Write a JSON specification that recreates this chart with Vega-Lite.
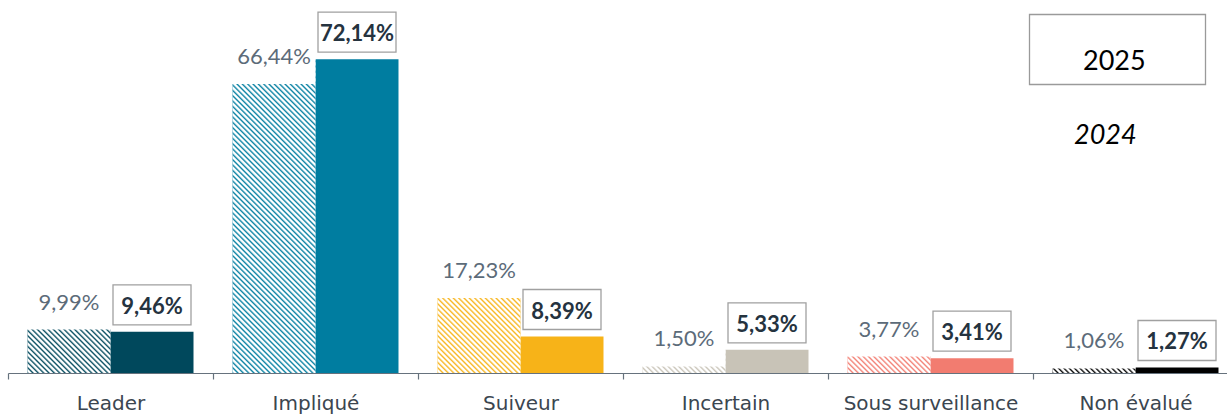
{
"$schema": "https://vega.github.io/schema/vega-lite/v6.json",
"width": 1219,
"height": 373,
"autosize": {"type": "none"},
"padding": {"left": 8, "top": 0, "right": 0, "bottom": 41},
"background": "white",
"config": {"view": {"stroke": null}, "font": "Lato", "locale": {"number": {"decimal": ",", "thousands": " ", "grouping": [3], "currency": ["", " €"]}}},
"data": {"values": [
{"category": "Leader", "year": "2024", "value": 0.0999},
{"category": "Leader", "year": "2025", "value": 0.0946},
{"category": "Impliqué", "year": "2024", "value": 0.6644},
{"category": "Impliqué", "year": "2025", "value": 0.7214},
{"category": "Suiveur", "year": "2024", "value": 0.1723},
{"category": "Suiveur", "year": "2025", "value": 0.0839},
{"category": "Incertain", "year": "2024", "value": 0.0150},
{"category": "Incertain", "year": "2025", "value": 0.0533},
{"category": "Sous surveillance", "year": "2024", "value": 0.0377},
{"category": "Sous surveillance", "year": "2025", "value": 0.0341},
{"category": "Non évalué", "year": "2024", "value": 0.0106},
{"category": "Non évalué", "year": "2025", "value": 0.0127}
]},
"encoding": {
"x": {"field": "category", "type": "nominal", "sort": ["Leader", "Impliqué", "Suiveur", "Incertain", "Sous surveillance", "Non évalué"],
 "scale": {"range": [0, 1230], "paddingInner": 0, "paddingOuter": 0},
 "axis": {"title": null, "tickBand": "extent", "domainColor": "#66727d", "domainWidth": 1.2, "tickColor": "#66727d", "tickWidth": 1.2, "tickSize": 6, "labelFont": "DejaVu Sans", "labelFontSize": 20, "labelColor": "#3b4650", "labelBaseline": "alphabetic", "labelPadding": 30, "labelAngle": 0, "zindex": 1}},
"y": {"field": "value", "type": "quantitative", "scale": {"domain": [0, 0.8575], "nice": false, "zero": true}, "axis": null}
},
"layer": [
{"mark": {"type": "bar"},
 "encoding": {
  "xOffset": {"field": "year", "type": "nominal", "scale": {"domain": ["2024", "2025"], "paddingInner": 0, "paddingOuter": 0.235}},
  "color": {"field": "category", "type": "nominal", "scale": {"domain": ["Leader", "Impliqué", "Suiveur", "Incertain", "Sous surveillance", "Non évalué"], "range": ["#00485c", "#007da0", "#f7b318", "#c8c3b7", "#f27c70", "#000000"]}, "legend": null},
  "opacity": {"field": "year", "type": "ordinal", "scale": {"domain": ["2025", "2024"], "range": [1, 1]},
   "legend": {"title": null, "orient": "none", "legendX": 1070, "legendY": 48, "direction": "vertical", "padding": 0,
    "symbolType": "M-62,-47H114V23H-62Z", "symbolSize": 4, "symbolStrokeColor": "#9a9a9a", "symbolStrokeWidth": 1.3, "symbolFillColor": "transparent",
    "labelFont": "Lato", "labelFontSize": 27, "labelColor": "#000000", "rowPadding": 0, "labelOffset": -22,
    "encode": {"labels": {"update": {"fontStyle": {"signal": "datum.value === '2024' ? 'italic' : 'normal'"}, "dx": {"signal": "datum.value === '2024' ? -9 : 0"}}},
               "symbols": {"update": {"strokeOpacity": {"signal": "datum.value === '2025' ? 1 : 0"}, "fill": {"value": "transparent"}, "stroke": {"value": "#9a9a9a"}}}}}}
 }},
{"transform": [{"filter": "datum.year === '2024'"}],
 "mark": {"type": "bar", "fill": {"gradient": "linear", "x1": 0, "y1": 1, "x2": 0.30316, "y2": -0.36239, "stops": [
{"offset":0,"color":"#fff0"},{"offset":0.004,"color":"#fff"},{"offset":0.007,"color":"#fff"},
{"offset":0.01,"color":"#fff0"},{"offset":0.014,"color":"#fff"},{"offset":0.017,"color":"#fff"},
{"offset":0.02,"color":"#fff0"},{"offset":0.024,"color":"#fff"},{"offset":0.027,"color":"#fff"},
{"offset":0.03,"color":"#fff0"},{"offset":0.034,"color":"#fff"},{"offset":0.037,"color":"#fff"},
{"offset":0.04,"color":"#fff0"},{"offset":0.044,"color":"#fff"},{"offset":0.047,"color":"#fff"},
{"offset":0.05,"color":"#fff0"},{"offset":0.054,"color":"#fff"},{"offset":0.057,"color":"#fff"},
{"offset":0.06,"color":"#fff0"},{"offset":0.064,"color":"#fff"},{"offset":0.067,"color":"#fff"},
{"offset":0.07,"color":"#fff0"},{"offset":0.074,"color":"#fff"},{"offset":0.077,"color":"#fff"},
{"offset":0.08,"color":"#fff0"},{"offset":0.084,"color":"#fff"},{"offset":0.087,"color":"#fff"},
{"offset":0.09,"color":"#fff0"},{"offset":0.094,"color":"#fff"},{"offset":0.097,"color":"#fff"},
{"offset":0.1,"color":"#fff0"},{"offset":0.104,"color":"#fff"},{"offset":0.107,"color":"#fff"},
{"offset":0.11,"color":"#fff0"},{"offset":0.114,"color":"#fff"},{"offset":0.117,"color":"#fff"},
{"offset":0.12,"color":"#fff0"},{"offset":0.124,"color":"#fff"},{"offset":0.127,"color":"#fff"},
{"offset":0.13,"color":"#fff0"},{"offset":0.134,"color":"#fff"},{"offset":0.137,"color":"#fff"},
{"offset":0.14,"color":"#fff0"},{"offset":0.144,"color":"#fff"},{"offset":0.147,"color":"#fff"},
{"offset":0.15,"color":"#fff0"},{"offset":0.154,"color":"#fff"},{"offset":0.157,"color":"#fff"},
{"offset":0.16,"color":"#fff0"},{"offset":0.164,"color":"#fff"},{"offset":0.167,"color":"#fff"},
{"offset":0.17,"color":"#fff0"},{"offset":0.174,"color":"#fff"},{"offset":0.177,"color":"#fff"},
{"offset":0.18,"color":"#fff0"},{"offset":0.184,"color":"#fff"},{"offset":0.187,"color":"#fff"},
{"offset":0.19,"color":"#fff0"},{"offset":0.194,"color":"#fff"},{"offset":0.197,"color":"#fff"},
{"offset":0.2,"color":"#fff0"},{"offset":0.204,"color":"#fff"},{"offset":0.207,"color":"#fff"},
{"offset":0.21,"color":"#fff0"},{"offset":0.214,"color":"#fff"},{"offset":0.217,"color":"#fff"},
{"offset":0.22,"color":"#fff0"},{"offset":0.224,"color":"#fff"},{"offset":0.227,"color":"#fff"},
{"offset":0.23,"color":"#fff0"},{"offset":0.234,"color":"#fff"},{"offset":0.237,"color":"#fff"},
{"offset":0.24,"color":"#fff0"},{"offset":0.244,"color":"#fff"},{"offset":0.247,"color":"#fff"},
{"offset":0.25,"color":"#fff0"},{"offset":0.254,"color":"#fff"},{"offset":0.257,"color":"#fff"},
{"offset":0.26,"color":"#fff0"},{"offset":0.264,"color":"#fff"},{"offset":0.267,"color":"#fff"},
{"offset":0.27,"color":"#fff0"},{"offset":0.274,"color":"#fff"},{"offset":0.277,"color":"#fff"},
{"offset":0.28,"color":"#fff0"},{"offset":0.284,"color":"#fff"},{"offset":0.287,"color":"#fff"},
{"offset":0.29,"color":"#fff0"},{"offset":0.294,"color":"#fff"},{"offset":0.297,"color":"#fff"},
{"offset":0.3,"color":"#fff0"},{"offset":0.304,"color":"#fff"},{"offset":0.307,"color":"#fff"},
{"offset":0.31,"color":"#fff0"},{"offset":0.314,"color":"#fff"},{"offset":0.317,"color":"#fff"},
{"offset":0.32,"color":"#fff0"},{"offset":0.324,"color":"#fff"},{"offset":0.327,"color":"#fff"},
{"offset":0.33,"color":"#fff0"},{"offset":0.334,"color":"#fff"},{"offset":0.337,"color":"#fff"},
{"offset":0.34,"color":"#fff0"},{"offset":0.344,"color":"#fff"},{"offset":0.347,"color":"#fff"},
{"offset":0.35,"color":"#fff0"},{"offset":0.354,"color":"#fff"},{"offset":0.357,"color":"#fff"},
{"offset":0.36,"color":"#fff0"},{"offset":0.364,"color":"#fff"},{"offset":0.367,"color":"#fff"},
{"offset":0.37,"color":"#fff0"},{"offset":0.374,"color":"#fff"},{"offset":0.377,"color":"#fff"},
{"offset":0.38,"color":"#fff0"},{"offset":0.384,"color":"#fff"},{"offset":0.387,"color":"#fff"},
{"offset":0.39,"color":"#fff0"},{"offset":0.394,"color":"#fff"},{"offset":0.397,"color":"#fff"},
{"offset":0.4,"color":"#fff0"},{"offset":0.404,"color":"#fff"},{"offset":0.407,"color":"#fff"},
{"offset":0.41,"color":"#fff0"},{"offset":0.414,"color":"#fff"},{"offset":0.417,"color":"#fff"},
{"offset":0.42,"color":"#fff0"},{"offset":0.424,"color":"#fff"},{"offset":0.427,"color":"#fff"},
{"offset":0.43,"color":"#fff0"},{"offset":0.434,"color":"#fff"},{"offset":0.437,"color":"#fff"},
{"offset":0.44,"color":"#fff0"},{"offset":0.444,"color":"#fff"},{"offset":0.447,"color":"#fff"},
{"offset":0.45,"color":"#fff0"},{"offset":0.454,"color":"#fff"},{"offset":0.457,"color":"#fff"},
{"offset":0.46,"color":"#fff0"},{"offset":0.464,"color":"#fff"},{"offset":0.467,"color":"#fff"},
{"offset":0.47,"color":"#fff0"},{"offset":0.474,"color":"#fff"},{"offset":0.477,"color":"#fff"},
{"offset":0.48,"color":"#fff0"},{"offset":0.484,"color":"#fff"},{"offset":0.487,"color":"#fff"},
{"offset":0.49,"color":"#fff0"},{"offset":0.494,"color":"#fff"},{"offset":0.497,"color":"#fff"},
{"offset":0.5,"color":"#fff0"},{"offset":0.504,"color":"#fff"},{"offset":0.507,"color":"#fff"},
{"offset":0.51,"color":"#fff0"},{"offset":0.514,"color":"#fff"},{"offset":0.517,"color":"#fff"},
{"offset":0.52,"color":"#fff0"},{"offset":0.524,"color":"#fff"},{"offset":0.527,"color":"#fff"},
{"offset":0.53,"color":"#fff0"},{"offset":0.534,"color":"#fff"},{"offset":0.537,"color":"#fff"},
{"offset":0.54,"color":"#fff0"},{"offset":0.544,"color":"#fff"},{"offset":0.547,"color":"#fff"},
{"offset":0.55,"color":"#fff0"},{"offset":0.554,"color":"#fff"},{"offset":0.557,"color":"#fff"},
{"offset":0.56,"color":"#fff0"},{"offset":0.564,"color":"#fff"},{"offset":0.567,"color":"#fff"},
{"offset":0.57,"color":"#fff0"},{"offset":0.574,"color":"#fff"},{"offset":0.577,"color":"#fff"},
{"offset":0.58,"color":"#fff0"},{"offset":0.584,"color":"#fff"},{"offset":0.587,"color":"#fff"},
{"offset":0.59,"color":"#fff0"},{"offset":0.594,"color":"#fff"},{"offset":0.597,"color":"#fff"},
{"offset":0.6,"color":"#fff0"},{"offset":0.604,"color":"#fff"},{"offset":0.607,"color":"#fff"},
{"offset":0.61,"color":"#fff0"},{"offset":0.614,"color":"#fff"},{"offset":0.617,"color":"#fff"},
{"offset":0.62,"color":"#fff0"},{"offset":0.624,"color":"#fff"},{"offset":0.627,"color":"#fff"},
{"offset":0.63,"color":"#fff0"},{"offset":0.634,"color":"#fff"},{"offset":0.637,"color":"#fff"},
{"offset":0.64,"color":"#fff0"},{"offset":0.644,"color":"#fff"},{"offset":0.647,"color":"#fff"},
{"offset":0.65,"color":"#fff0"},{"offset":0.654,"color":"#fff"},{"offset":0.657,"color":"#fff"},
{"offset":0.66,"color":"#fff0"},{"offset":0.664,"color":"#fff"},{"offset":0.667,"color":"#fff"},
{"offset":0.67,"color":"#fff0"},{"offset":0.674,"color":"#fff"},{"offset":0.677,"color":"#fff"},
{"offset":0.68,"color":"#fff0"},{"offset":0.684,"color":"#fff"},{"offset":0.687,"color":"#fff"},
{"offset":0.69,"color":"#fff0"},{"offset":0.694,"color":"#fff"},{"offset":0.697,"color":"#fff"},
{"offset":0.7,"color":"#fff0"},{"offset":0.704,"color":"#fff"},{"offset":0.707,"color":"#fff"},
{"offset":0.71,"color":"#fff0"},{"offset":0.714,"color":"#fff"},{"offset":0.717,"color":"#fff"},
{"offset":0.72,"color":"#fff0"},{"offset":0.724,"color":"#fff"},{"offset":0.727,"color":"#fff"},
{"offset":0.73,"color":"#fff0"},{"offset":0.734,"color":"#fff"},{"offset":0.737,"color":"#fff"},
{"offset":0.74,"color":"#fff0"},{"offset":0.744,"color":"#fff"},{"offset":0.747,"color":"#fff"},
{"offset":0.75,"color":"#fff0"},{"offset":0.754,"color":"#fff"},{"offset":0.757,"color":"#fff"},
{"offset":0.76,"color":"#fff0"},{"offset":0.764,"color":"#fff"},{"offset":0.767,"color":"#fff"},
{"offset":0.77,"color":"#fff0"},{"offset":0.774,"color":"#fff"},{"offset":0.777,"color":"#fff"},
{"offset":0.78,"color":"#fff0"},{"offset":0.784,"color":"#fff"},{"offset":0.787,"color":"#fff"},
{"offset":0.79,"color":"#fff0"},{"offset":0.794,"color":"#fff"},{"offset":0.797,"color":"#fff"},
{"offset":0.8,"color":"#fff0"},{"offset":0.804,"color":"#fff"},{"offset":0.807,"color":"#fff"},
{"offset":0.81,"color":"#fff0"},{"offset":0.814,"color":"#fff"},{"offset":0.817,"color":"#fff"},
{"offset":0.82,"color":"#fff0"},{"offset":0.824,"color":"#fff"},{"offset":0.827,"color":"#fff"},
{"offset":0.83,"color":"#fff0"},{"offset":0.834,"color":"#fff"},{"offset":0.837,"color":"#fff"},
{"offset":0.84,"color":"#fff0"},{"offset":0.844,"color":"#fff"},{"offset":0.847,"color":"#fff"},
{"offset":0.85,"color":"#fff0"},{"offset":0.854,"color":"#fff"},{"offset":0.857,"color":"#fff"},
{"offset":0.86,"color":"#fff0"}
 ]}},
 "encoding": {
  "xOffset": {"field": "year", "type": "nominal"},
  "y": {"datum": 0.8575, "type": "quantitative"},
  "y2": {"datum": 0}
 }},
{"transform": [{"filter": "datum.year === '2024'"}],
 "mark": {"type": "text", "dx": -41.5, "dy": -20, "baseline": "alphabetic", "align": "center", "font": "Lato", "fontSize": 22, "color": "#5c6b79"},
 "encoding": {"text": {"field": "value", "type": "quantitative", "format": ".2%"}}},
{"transform": [{"filter": "datum.year === '2025'"}],
 "mark": {"type": "point", "shape": "M-39,-20H39V20H-39Z", "size": 4, "filled": true, "fill": "white", "stroke": "#a0a0a0", "strokeWidth": 1.3, "opacity": 1, "xOffset": 41.5, "yOffset": -27}},
{"transform": [{"filter": "datum.year === '2025'"}],
 "mark": {"type": "text", "dx": 41.5, "dy": -18, "baseline": "alphabetic", "align": "center", "font": "Lato", "fontSize": 22, "fontWeight": "bold", "color": "#25333f"},
 "encoding": {"text": {"field": "value", "type": "quantitative", "format": ".2%"}}}
]
}
